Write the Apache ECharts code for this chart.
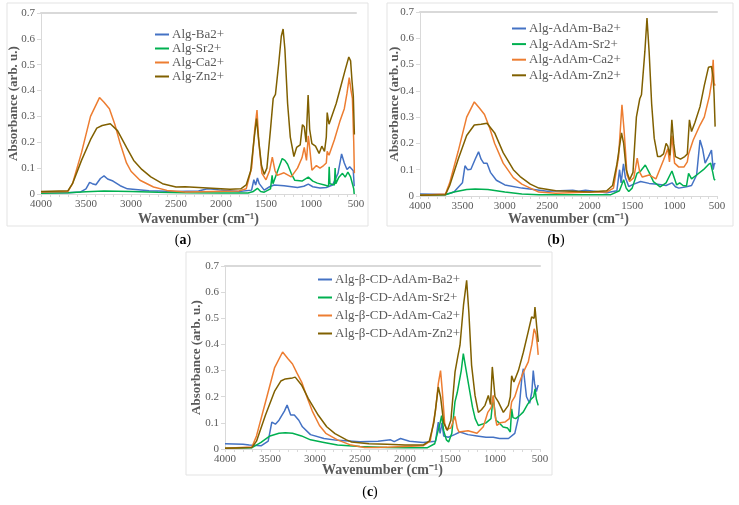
<!DOCTYPE html>
<html>
<head>
<meta charset="utf-8">
<script src="https://cdn.jsdelivr.net/npm/echarts@6/dist/echarts.min.js"></script>
<style>
  html, body { margin: 0; padding: 0; background: #fff; }
  #chart { width: 739px; height: 505px; }
</style>
</head>
<body>
<div id="chart"></div>
<script>
// FTIR spectra, [wavenumber, absorbance]
const aBa = [[4000,0.005],[3700,0.005],[3560,0.008],[3500,0.02],[3460,0.045],[3430,0.04],[3390,0.036],[3340,0.06],[3300,0.07],[3260,0.058],[3200,0.05],[3120,0.032],[3040,0.02],[2800,0.013],[2500,0.01],[2250,0.012],[2150,0.02],[2080,0.018],[2000,0.015],[1800,0.01],[1660,0.015],[1635,0.055],[1615,0.035],[1595,0.062],[1575,0.04],[1520,0.015],[1460,0.028],[1410,0.035],[1300,0.032],[1150,0.025],[1080,0.03],[1030,0.038],[980,0.028],[900,0.023],[830,0.025],[760,0.035],[700,0.08],[660,0.155],[630,0.12],[600,0.095],[570,0.105],[550,0.11],[530,0.09],[520,0.03]];
const aSr = [[4000,0.003],[3700,0.005],[3500,0.009],[3300,0.012],[3000,0.01],[2700,0.007],[2400,0.005],[2000,0.004],[1700,0.004],[1640,0.01],[1595,0.022],[1560,0.01],[1520,0.007],[1450,0.02],[1432,0.072],[1422,0.04],[1400,0.045],[1360,0.1],[1320,0.137],[1290,0.13],[1260,0.115],[1220,0.08],[1180,0.053],[1100,0.05],[1030,0.065],[980,0.05],[930,0.042],[850,0.035],[805,0.03],[798,0.105],[790,0.04],[740,0.035],[732,0.1],[724,0.04],[690,0.065],[650,0.08],[620,0.065],[590,0.085],[560,0.066],[540,0.06],[525,0.02],[520,0.0]];
const aCa = [[4000,0.008],[3700,0.01],[3650,0.04],[3550,0.16],[3450,0.3],[3350,0.373],[3300,0.355],[3240,0.33],[3180,0.27],[3120,0.195],[3050,0.12],[3000,0.088],[2900,0.053],[2750,0.027],[2600,0.014],[2400,0.008],[2100,0.01],[1800,0.012],[1720,0.02],[1660,0.1],[1625,0.25],[1600,0.325],[1580,0.2],[1545,0.08],[1500,0.055],[1460,0.09],[1430,0.143],[1400,0.09],[1375,0.072],[1300,0.082],[1220,0.066],[1150,0.1],[1100,0.14],[1075,0.18],[1050,0.13],[1030,0.225],[1015,0.18],[990,0.092],[940,0.11],[900,0.1],[860,0.11],[830,0.12],[820,0.165],[800,0.15],[740,0.21],[680,0.28],[630,0.33],[600,0.39],[575,0.45],[555,0.4],[540,0.37],[525,0.2],[518,0.08]];
const aZn = [[4000,0.01],[3700,0.013],[3650,0.04],[3550,0.13],[3450,0.21],[3380,0.255],[3320,0.265],[3230,0.272],[3150,0.245],[3050,0.18],[2970,0.13],[2880,0.095],[2780,0.066],[2650,0.04],[2500,0.027],[2400,0.028],[2250,0.025],[2100,0.022],[1900,0.018],[1780,0.02],[1720,0.035],[1670,0.09],[1630,0.22],[1605,0.292],[1585,0.22],[1550,0.11],[1520,0.076],[1490,0.1],[1450,0.25],[1420,0.37],[1395,0.385],[1360,0.5],[1330,0.61],[1310,0.638],[1290,0.56],[1260,0.35],[1230,0.22],[1190,0.145],[1160,0.18],[1120,0.19],[1095,0.268],[1075,0.26],[1055,0.2],[1032,0.383],[1015,0.25],[990,0.195],[950,0.185],[910,0.157],[880,0.185],[850,0.165],[830,0.22],[820,0.315],[800,0.27],[770,0.3],[720,0.35],[670,0.415],[620,0.48],[580,0.53],[560,0.515],[545,0.44],[530,0.38],[518,0.23]];

const bBa = [[4000,0.008],[3700,0.006],[3600,0.015],[3500,0.05],[3470,0.115],[3440,0.1],[3400,0.102],[3350,0.14],[3310,0.168],[3280,0.14],[3250,0.125],[3210,0.125],[3170,0.09],[3100,0.06],[3000,0.042],[2800,0.03],[2500,0.018],[2200,0.022],[2130,0.018],[2050,0.022],[1950,0.018],[1800,0.012],[1680,0.02],[1648,0.1],[1630,0.05],[1602,0.122],[1580,0.07],[1540,0.036],[1480,0.045],[1400,0.055],[1300,0.048],[1200,0.045],[1100,0.04],[1030,0.05],[990,0.035],[950,0.03],[860,0.035],[800,0.04],[740,0.08],[700,0.213],[670,0.18],[640,0.125],[600,0.15],[565,0.175],[545,0.1],[530,0.125],[522,0.12]];
const bSr = [[4000,0.003],[3700,0.005],[3600,0.015],[3450,0.025],[3350,0.027],[3200,0.025],[3000,0.015],[2800,0.008],[2600,0.005],[2000,0.005],[1750,0.005],[1650,0.02],[1600,0.062],[1570,0.03],[1540,0.017],[1500,0.03],[1443,0.086],[1400,0.095],[1345,0.118],[1300,0.09],[1250,0.055],[1170,0.035],[1100,0.05],[1031,0.095],[975,0.042],[940,0.05],[900,0.04],[860,0.038],[835,0.086],[800,0.065],[740,0.08],[660,0.1],[600,0.12],[575,0.125],[550,0.09],[535,0.065],[522,0.06]];
const bCa = [[4000,0.003],[3700,0.008],[3650,0.05],[3550,0.17],[3450,0.3],[3360,0.358],[3300,0.335],[3240,0.31],[3180,0.26],[3120,0.2],[3020,0.125],[2900,0.07],[2800,0.045],[2600,0.015],[2400,0.01],[2000,0.015],[1800,0.015],[1720,0.03],[1660,0.15],[1620,0.347],[1595,0.25],[1560,0.08],[1530,0.055],[1480,0.07],[1440,0.144],[1410,0.09],[1380,0.072],[1300,0.08],[1220,0.065],[1130,0.137],[1080,0.18],[1060,0.13],[1031,0.23],[1000,0.125],[950,0.11],[890,0.11],[850,0.13],[835,0.16],[780,0.213],[700,0.27],[650,0.3],[590,0.38],[560,0.44],[545,0.518],[535,0.43],[522,0.42]];
const bZn = [[4000,0.003],[3700,0.005],[3650,0.04],[3550,0.14],[3450,0.23],[3360,0.27],[3280,0.273],[3210,0.277],[3120,0.24],[3020,0.165],[2900,0.1],[2820,0.074],[2700,0.045],[2600,0.03],[2400,0.02],[2200,0.018],[2000,0.015],[1800,0.02],[1730,0.04],[1680,0.12],[1625,0.24],[1600,0.2],[1570,0.1],[1530,0.062],[1490,0.09],[1450,0.3],[1410,0.37],[1390,0.385],[1350,0.55],[1325,0.677],[1300,0.55],[1270,0.35],[1240,0.22],[1200,0.15],[1170,0.15],[1130,0.16],[1100,0.2],[1080,0.19],[1055,0.155],[1032,0.29],[1010,0.2],[990,0.15],[930,0.14],[880,0.15],[850,0.16],[825,0.29],[800,0.245],[760,0.28],[700,0.34],[650,0.42],[600,0.49],[565,0.493],[545,0.45],[535,0.39],[522,0.264]];

const cBa = [[4000,0.02],[3800,0.018],[3730,0.015],[3600,0.012],[3520,0.03],[3480,0.103],[3440,0.095],[3400,0.11],[3340,0.145],[3310,0.168],[3270,0.13],[3230,0.13],[3180,0.11],[3140,0.085],[3050,0.055],[2900,0.04],[2750,0.033],[2500,0.028],[2300,0.03],[2160,0.035],[2120,0.028],[2050,0.04],[1950,0.03],[1800,0.025],[1660,0.03],[1630,0.103],[1610,0.06],[1590,0.1],[1570,0.05],[1520,0.045],[1450,0.055],[1390,0.065],[1300,0.055],[1200,0.05],[1100,0.045],[1020,0.045],[950,0.04],[850,0.04],[780,0.06],[740,0.12],[700,0.28],[685,0.307],[650,0.2],[615,0.175],[590,0.22],[575,0.3],[560,0.25],[540,0.22],[520,0.245]];
const cSr = [[4000,0.003],[3700,0.005],[3600,0.025],[3500,0.05],[3400,0.06],[3330,0.062],[3250,0.06],[3150,0.05],[3050,0.035],[2900,0.025],[2750,0.015],[2500,0.01],[2200,0.006],[2000,0.005],[1750,0.005],[1670,0.02],[1640,0.06],[1610,0.1],[1593,0.128],[1570,0.07],[1540,0.035],[1515,0.027],[1480,0.06],[1445,0.18],[1420,0.215],[1400,0.22],[1375,0.3],[1352,0.365],[1320,0.3],[1290,0.24],[1250,0.16],[1220,0.116],[1185,0.09],[1100,0.1],[1045,0.116],[1020,0.2],[990,0.11],[963,0.103],[910,0.084],[860,0.08],[830,0.065],[815,0.154],[800,0.12],[770,0.116],[720,0.13],[685,0.142],[640,0.17],[600,0.19],[570,0.2],[555,0.23],[540,0.19],[520,0.167]];
const cCa = [[4000,0.003],[3700,0.008],[3650,0.05],[3550,0.18],[3450,0.31],[3360,0.371],[3300,0.345],[3250,0.325],[3200,0.29],[3148,0.256],[3080,0.19],[3030,0.145],[2950,0.09],[2880,0.06],[2750,0.035],[2600,0.015],[2450,0.006],[2300,0.006],[2000,0.01],[1800,0.012],[1720,0.03],[1660,0.15],[1630,0.25],[1605,0.3],[1585,0.22],[1560,0.1],[1540,0.075],[1490,0.08],[1445,0.125],[1420,0.08],[1400,0.065],[1300,0.07],[1200,0.06],[1130,0.085],[1080,0.14],[1040,0.16],[1020,0.205],[1000,0.13],[980,0.09],[940,0.1],[890,0.103],[840,0.116],[815,0.18],[780,0.2],[740,0.244],[690,0.29],[630,0.333],[590,0.4],[565,0.46],[545,0.44],[530,0.4],[520,0.36]];
const cZn = [[4000,0.003],[3700,0.006],[3650,0.03],[3550,0.13],[3450,0.22],[3380,0.26],[3330,0.268],[3250,0.272],[3220,0.275],[3150,0.245],[3074,0.193],[2963,0.129],[2870,0.085],[2778,0.059],[2650,0.035],[2593,0.027],[2400,0.02],[2200,0.018],[2000,0.015],[1800,0.015],[1730,0.03],[1680,0.1],[1630,0.237],[1605,0.2],[1570,0.1],[1530,0.071],[1490,0.11],[1444,0.295],[1410,0.36],[1389,0.397],[1350,0.55],[1315,0.645],[1290,0.52],[1260,0.32],[1222,0.205],[1185,0.14],[1150,0.15],[1111,0.167],[1074,0.205],[1050,0.17],[1030,0.314],[1000,0.2],[963,0.18],[907,0.14],[852,0.167],[830,0.2],[815,0.28],[790,0.256],[740,0.3],[685,0.37],[630,0.45],[593,0.505],[565,0.5],[556,0.543],[537,0.47],[519,0.41]];

const ions = ['Ba2+', 'Sr2+', 'Ca2+', 'Zn2+'];
const colors = ['#4472c4', '#00b050', '#ed7d31', '#806000'];
const prefixes = ['Alg-', 'Alg-AdAm-', 'Alg-β-CD-AdAm-'];
const panelData = [[aBa, aSr, aCa, aZn], [bBa, bSr, bCa, bZn], [cBa, cSr, cCa, cZn]];
const captions = ['a', 'b', 'c'];

const font = 'Liberation Serif';
const grey = '#595959';
const axisGrey = '#d9d9d9';

// layout of the three panels (px)
const grids = [
  { left: 41, top: 13, width: 315, height: 181 },
  { left: 420, top: 12, width: 297, height: 184 },
  { left: 225, top: 266, width: 315, height: 183 }
];
const frames = [[7, 3, 361, 223], [387, 3, 346, 223], [186, 252, 366, 223]];
const capPos = [[183, 240], [556, 240], [370, 492]];
const legendPos = [
  { left: 150, top: 23, itemGap: 1 },
  { left: 507, top: 17, itemGap: 2.6 },
  { left: 313, top: 268, itemGap: 5 }
];
const xNameGap = [18, 16, 14];
const yNameGap = [21, 19, 22];

const xAxes = [], yAxes = [], series = [], legends = [];
grids.forEach((g, i) => {
  xAxes.push({
    gridIndex: i, type: 'value', min: 500, max: 4000, interval: 500, inverse: true,
    name: 'Wavenumber (cm⁻¹)', nameLocation: 'middle', nameGap: xNameGap[i],
    nameMoveOverlap: false,
    nameTextStyle: { fontFamily: font, fontWeight: 'bold', fontSize: 14, color: grey },
    axisLine: { lineStyle: { color: axisGrey, width: 1 } },
    axisTick: { show: true, length: 3, lineStyle: { color: axisGrey } },
    minorTick: { show: true, splitNumber: 5, length: 3, lineStyle: { color: axisGrey } },
    axisLabel: { fontFamily: font, fontSize: 11, color: grey, margin: 5, formatter: v => String(v) },
    splitLine: { show: false }
  });
  // top frame line of the plot area
  xAxes.push({
    gridIndex: i, type: 'value', min: 500, max: 4000, inverse: true, position: 'top',
    axisLine: { show: true, onZero: false, lineStyle: { color: axisGrey, width: 2 } },
    axisTick: { show: false }, axisLabel: { show: false }, splitLine: { show: false }
  });
  yAxes.push({
    gridIndex: i, type: 'value', min: 0, max: 0.7, interval: 0.1,
    name: 'Absorbance (arb. u.)', nameLocation: 'middle', nameGap: yNameGap[i],
    nameMoveOverlap: false,
    nameTextStyle: { fontFamily: font, fontWeight: 'bold', fontSize: 13, color: grey },
    axisLine: { show: true, lineStyle: { color: axisGrey, width: 1 } },
    axisTick: { show: true, length: 4, lineStyle: { color: axisGrey } },
    axisLabel: { fontFamily: font, fontSize: 11, color: grey, margin: 6,
      formatter: v => (v === 0 ? '0' : v.toFixed(1)) },
    splitLine: { show: false }
  });
  const names = ions.map(ion => prefixes[i] + ion);
  names.forEach((n, k) => {
    series.push({
      name: n, type: 'line', xAxisIndex: i * 2, yAxisIndex: i,
      data: panelData[i][k], showSymbol: false, symbol: 'none',
      lineStyle: { color: colors[k], width: 1.5 }, itemStyle: { color: colors[k] },
      z: 2 + k
    });
  });
  legends.push({
    data: names, orient: 'vertical', left: legendPos[i].left, top: legendPos[i].top,
    itemGap: legendPos[i].itemGap, itemWidth: 14, itemHeight: 2, icon: 'rect',
    selectedMode: false,
    textStyle: { fontFamily: font, fontSize: 13, color: grey, padding: [0, 0, 0, -2] }
  });
});

const graphics = frames.map(f => ({
  type: 'rect', shape: { x: f[0], y: f[1], width: f[2], height: f[3] },
  style: { fill: null, stroke: '#e3e3e3', lineWidth: 1 }, silent: true
})).concat(capPos.map((p, i) => ({
  type: 'text', x: p[0], y: p[1], silent: true,
  style: {
    text: '(' + '{b|' + captions[i] + '}' + ')',
    rich: { b: { fontFamily: font, fontWeight: 'bold', fontSize: 14, fill: '#000' } },
    font: '14px "' + font + '"', fill: '#000', align: 'center', verticalAlign: 'middle'
  }
})));

const chart = echarts.init(document.getElementById('chart'));
chart.setOption({
  animation: false,
  backgroundColor: '#fff',
  grid: grids,
  xAxis: xAxes,
  yAxis: yAxes,
  legend: legends,
  series: series,
  graphic: graphics
});
</script>
</body>
</html>
